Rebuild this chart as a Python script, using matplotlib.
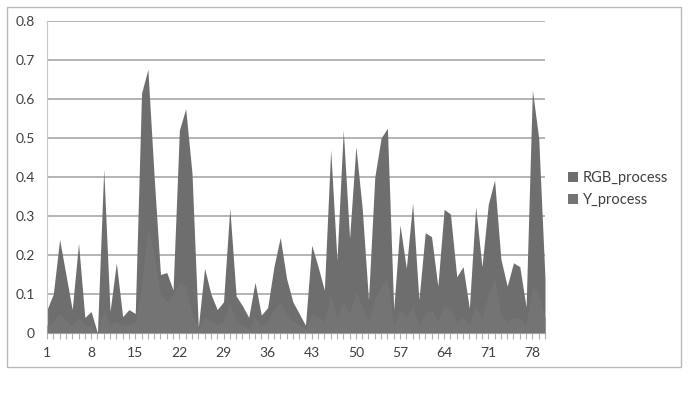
import matplotlib.pyplot as plt
import matplotlib.patches as mpatches
import numpy as np

plt.rcParams['font.family'] = ['Lato', 'DejaVu Sans']

# values, one per category (1..80)
rgb_process = [0.06, 0.10, 0.24, 0.15, 0.06, 0.23, 0.04, 0.055, 0.0, 0.42,
               0.055, 0.18, 0.042, 0.06, 0.05, 0.615, 0.676, 0.40, 0.15, 0.155,
               0.11, 0.52, 0.575, 0.41, 0.015, 0.166, 0.10, 0.06, 0.08, 0.32,
               0.095, 0.07, 0.04, 0.13, 0.046, 0.065, 0.17, 0.245, 0.14, 0.08,
               0.05, 0.02, 0.225, 0.17, 0.11, 0.47, 0.187, 0.52, 0.243, 0.478,
               0.32, 0.085, 0.40, 0.50, 0.525, 0.06, 0.277, 0.166, 0.333, 0.085,
               0.257, 0.247, 0.12, 0.317, 0.305, 0.144, 0.17, 0.063, 0.324, 0.17,
               0.33, 0.392, 0.19, 0.12, 0.18, 0.17, 0.067, 0.623, 0.50, 0.14]
y_process = [0.02, 0.03, 0.05, 0.03, 0.02, 0.04, 0.02, 0.02, 0.0, 0.06,
             0.02, 0.03, 0.02, 0.02, 0.03, 0.12, 0.27, 0.20, 0.10, 0.08,
             0.10, 0.13, 0.12, 0.05, 0.01, 0.04, 0.03, 0.02, 0.03, 0.08,
             0.03, 0.02, 0.01, 0.04, 0.02, 0.03, 0.06, 0.08, 0.05, 0.03,
             0.02, 0.01, 0.05, 0.04, 0.03, 0.10, 0.04, 0.08, 0.05, 0.105,
             0.07, 0.03, 0.09, 0.12, 0.14, 0.02, 0.06, 0.04, 0.07, 0.02,
             0.05, 0.06, 0.03, 0.07, 0.06, 0.03, 0.04, 0.02, 0.07, 0.04,
             0.10, 0.14, 0.05, 0.03, 0.04, 0.04, 0.02, 0.12, 0.10, 0.04]
categories = list(range(1, len(rgb_process) + 1))
label_every = 7
yticks = [0, 0.1, 0.2, 0.3, 0.4, 0.5, 0.6, 0.7, 0.8]

text_col = '#404040'
grid_col = '#a0a0a0'

fig = plt.figure(figsize=(6.9, 3.94), dpi=100)
# chart area border like excel
fig.patches.append(mpatches.Rectangle((7 / 690, 27 / 394), 674 / 690, 360 / 394,
                                      transform=fig.transFigure, fill=False,
                                      edgecolor='#b8b8b8', linewidth=1.0))

ax = fig.add_axes([47 / 690, 61 / 394, 498 / 690, 312 / 394])

ax.fill_between(categories, rgb_process, 0, color='#6e6e6e', linewidth=0,
                label='RGB_process', zorder=2)
ax.fill_between(categories, y_process, 0, color='#747474', linewidth=0,
                label='Y_process', zorder=3)

ax.set_xlim(categories[0], categories[-1])
ax.set_ylim(0, 0.8)
ax.set_yticks(yticks)
ax.set_yticklabels(['0' if v == 0 else f'{v:.1f}' for v in yticks])
ax.set_xticks(categories)
ax.set_xticklabels([str(c) if (c - 1) % label_every == 0 else '' for c in categories])

ax.yaxis.grid(True, color=grid_col, linewidth=1.1, zorder=1)
ax.set_axisbelow(True)
for side in ['top', 'right']:
    ax.spines[side].set_visible(False)
ax.spines['left'].set_color('#c8c8c8')
ax.spines['bottom'].set_color(grid_col)
ax.spines['bottom'].set_zorder(4)

ax.tick_params(axis='y', length=0, pad=9, labelsize=10, labelcolor=text_col)
ax.tick_params(axis='x', length=4, width=0.8, color='#b0b0b0', pad=6,
               labelsize=10, labelcolor=text_col)

ax.legend(loc='center left', bbox_to_anchor=(1.02, 0.46), frameon=False,
          fontsize=10.5, labelcolor=text_col, handlelength=0.7, handleheight=0.7,
          handletextpad=0.3, labelspacing=0.55)

fig.savefig('out.png', dpi=100)
